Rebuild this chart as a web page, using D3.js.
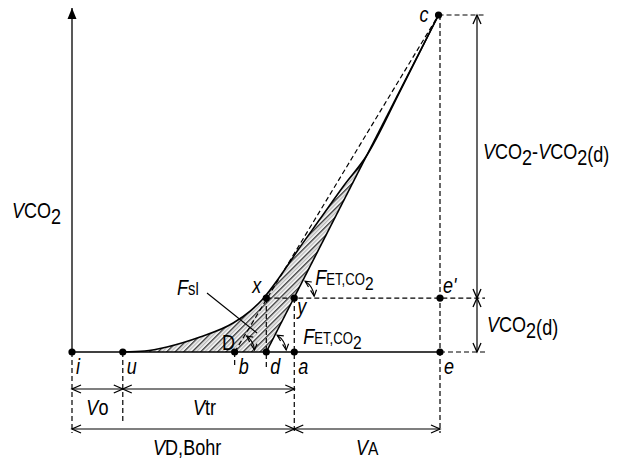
<!DOCTYPE html>
<html>
<head>
<meta charset="utf-8">
<script src="https://cdn.jsdelivr.net/npm/d3@7"></script>
<style>
  body { margin: 0; background: #fff; }
  svg text {
    font-family: "Liberation Sans Narrow", "Arial Narrow", "Liberation Sans", Arial, sans-serif;
    font-size: 22px;
    fill: #000;
  }
</style>
</head>
<body>
<div id="chart"></div>
<script>
// expired volume (mL) of the marked points on the baseline
const pointNames = ['i', 'u', 'b', 'd', 'a', 'e'];
const pointVolumes = [0, 69, 221, 264, 302, 500];
// CO2 volume levels (mL)
const co2Dead = 3.2;   // VCO2(d): level of x, y and e'
const co2Total = 20;   // level of c
const volC = 498;
// volumetric capnogram, u -> c
const curveVolumes = [69, 99, 129, 174, 219, 242, 258, 283, 307, 337, 370, 400, 446, 498];
const curveCO2 = [0, 0.06, 0.3, 0.89, 1.72, 2.43, 3.09, 4.51, 6.05, 7.89, 9.91, 11.63, 15.5, 20];

const width = 620, height = 459;
const x = d3.scaleLinear().domain([0, 500]).range([72, 440]);
const y = d3.scaleLinear().domain([0, co2Total]).range([352, 15]);
const squeeze = 0.82; // narrow face look

const vol = {};
pointNames.forEach((n, i) => (vol[n] = pointVolumes[i]));

const svg = d3.select('#chart')
  .append('svg')
  .attr('width', width)
  .attr('height', height);

const defs = svg.append('defs');
defs.append('marker')
  .attr('id', 'open')
  .attr('viewBox', '-10 -5 12 10')
  .attr('markerWidth', 12).attr('markerHeight', 10)
  .attr('markerUnits', 'userSpaceOnUse')
  .attr('orient', 'auto-start-reverse')
  .append('path')
  .attr('d', 'M-9,-4L0,0L-9,4')
  .attr('fill', 'none').attr('stroke', '#000').attr('stroke-width', 1.3);
defs.append('marker')
  .attr('id', 'small')
  .attr('viewBox', '-8 -4 10 8')
  .attr('markerWidth', 10).attr('markerHeight', 8)
  .attr('markerUnits', 'userSpaceOnUse')
  .attr('orient', 'auto-start-reverse')
  .append('path')
  .attr('d', 'M-6,-3L0,0L-6,3')
  .attr('fill', 'none').attr('stroke', '#000').attr('stroke-width', 1.2);
defs.append('marker')
  .attr('id', 'solid')
  .attr('viewBox', '-12 -6 14 12')
  .attr('markerWidth', 14).attr('markerHeight', 12)
  .attr('markerUnits', 'userSpaceOnUse')
  .attr('orient', 'auto')
  .append('path')
  .attr('d', 'M-11,-4.5L0,0L-11,4.5Z')
  .attr('fill', '#000');

const hatch = defs.append('pattern')
  .attr('id', 'hatch')
  .attr('patternUnits', 'userSpaceOnUse')
  .attr('width', 6).attr('height', 6)
  .attr('patternTransform', 'rotate(45)');
hatch.append('rect').attr('width', 6).attr('height', 6).attr('fill', '#fff');
hatch.append('rect').attr('x', 0).attr('width', 1.4).attr('height', 6).attr('fill', '#333');
hatch.append('rect').attr('x', 2.8).attr('width', 1.6).attr('height', 6).attr('fill', '#bbb');

function seg(x1, y1, x2, y2, dashed) {
  return svg.append('line')
    .attr('x1', x1).attr('y1', y1).attr('x2', x2).attr('y2', y2)
    .attr('stroke', '#000')
    .attr('stroke-width', dashed ? 1.2 : 1.5)
    .attr('stroke-dasharray', dashed ? '5,3' : null);
}

function dimArrow(x1, y1, x2, y2) {
  seg(x1, y1, x2, y2)
    .attr('stroke-width', 1.2)
    .attr('marker-start', 'url(#open)')
    .attr('marker-end', 'url(#open)');
}

function label(x0, y0, parts, anchor) {
  const t = svg.append('text')
    .attr('transform', `translate(${x0},${y0}) scale(${squeeze},1)`)
    .attr('text-anchor', anchor || 'start');
  let shift = 0;
  parts.forEach(p => {
    const ts = t.append('tspan').text(p.t);
    if (p.i) ts.attr('font-style', 'italic');
    if (p.s) ts.attr('font-size', p.s);
    const dy = (p.dy || 0) - shift;
    if (dy) ts.attr('dy', dy);
    shift = p.dy || 0;
  });
  return t;
}

const curvePts = curveVolumes.map((v, i) => [x(v), y(curveCO2[i])]);
const curveLine = d3.line().curve(d3.curveMonotoneX);

// hatched area between capnogram and the d-c line
svg.append('path')
  .attr('d', curveLine(curvePts) + `L${x(vol.d)},${y(0)}Z`)
  .attr('fill', 'url(#hatch)')
  .attr('stroke', 'none');

const x0 = x(0), yBase = y(0), yDead = y(co2Dead), yTop = y(co2Total);
const xC = x(volC), xE = x(vol.e);
const xRight = xE + 45, xDim = xE + 37;
const rowA = yBase + 37, rowB = yBase + 77;

// y axis
seg(x0, yBase, x0, 8).attr('stroke', '#222').attr('marker-end', 'url(#solid)');
// baseline
seg(x0, yBase, xE, yBase);
seg(xE, yBase, xRight, yBase, true);

// guide lines
seg(xC, yTop, xRight, yTop, true);
seg(x(vol.d), yDead, xRight, yDead, true);
seg(xE, yTop, xE, rowB + 4, true);
seg(x0, yBase, x0, rowB + 4, true);
seg(x(vol.u), yBase, x(vol.u), rowB - 6, true);
seg(x(vol.a), yDead, x(vol.a), rowB + 4, true);
seg(x(vol.d), yDead, x(vol.d), yBase + 16, true);
seg(x(vol.b), yBase, x(vol.b), yBase + 16, true);
seg(x(vol.b), yBase, xC, yTop, true);

// capnogram and d-c line
svg.append('path')
  .attr('d', curveLine(curvePts))
  .attr('fill', 'none').attr('stroke', '#000').attr('stroke-width', 1.6);
seg(x(vol.d), yBase, xC, yTop).attr('stroke-width', 1.6);

// angle arcs
function angleArc(cx, cy, ang, r) {
  const p = d3.path();
  p.arc(cx, cy, r, -0.1, -(ang - 0.1), true);
  svg.append('path')
    .attr('d', p.toString())
    .attr('fill', 'none').attr('stroke', '#000').attr('stroke-width', 1.1)
    .attr('marker-start', 'url(#small)')
    .attr('marker-end', 'url(#small)');
}
const angDC = Math.atan2(yBase - yTop, xC - x(vol.d));
const angBC = Math.atan2(yBase - yTop, xC - x(vol.b));
angleArc(x(vol.d), yBase, angDC, 20);
angleArc(x(vol.a), yDead, angDC, 20);
angleArc(x(vol.b), yBase, angBC, 20);

// points
const dots = pointNames.map(n => [x(vol[n]), yBase])
  .concat([[xE, yDead], [xC, yTop], [x(vol.d), yDead], [x(vol.a), yDead]]);
svg.selectAll('circle.pt')
  .data(dots)
  .enter()
  .append('circle')
  .attr('class', 'pt')
  .attr('cx', d => d[0]).attr('cy', d => d[1])
  .attr('r', 3.6).attr('fill', '#000');

// dimension arrows
dimArrow(xDim, yTop, xDim, yDead);
dimArrow(xDim, yDead, xDim, yBase);
dimArrow(x0, rowA, x(vol.u), rowA);
dimArrow(x(vol.u), rowA, x(vol.a), rowA);
dimArrow(x0, rowB, x(vol.a), rowB);
dimArrow(x(vol.a), rowB, xE, rowB);

// point letters
pointNames.forEach(n => label(x(vol[n]) + 4, yBase + 22, [{ t: n, i: true }]));
label(xE + 3, yDead - 5, [{ t: "e'", i: true }]);
label(xC - 19, yTop + 7, [{ t: 'c', i: true }]);
label(x(vol.d) - 14, yDead - 5, [{ t: 'x', i: true }]);
label(x(vol.a) + 3, yDead + 16, [{ t: 'y', i: true }]);
label(222, yBase - 2, [{ t: 'D' }]);

// F labels
const fet = [{ t: 'F', i: true }, { t: 'ET,CO', s: 16 }, { t: '2', s: 19, dy: 5 }];
label(x(vol.a) + 21, yDead - 13, fet);
label(x(vol.a) + 9, yBase - 8, fet);
label(177, 295, [{ t: 'F', i: true }, { t: 'sl', s: 18 }]);
seg(207, 293, 257, 333).attr('stroke-width', 1.1);

// axis and dimension labels
const vco2 = [{ t: 'V', i: true }, { t: 'CO' }, { t: '2', dy: 6 }];
label(12, 218, vco2);
label(483, (yTop + yDead) / 2 + 2, vco2.concat([{ t: '-' }], vco2, [{ t: '(d)', dy: 3 }]));
label(487, yBase - 20, vco2.concat([{ t: '(d)', dy: 3 }]));
label((x0 + x(vol.u)) / 2, rowA + 26, [{ t: 'V', i: true }, { t: 'o' }], 'middle');
label((x(vol.u) + x(vol.a)) / 2 - 4, rowA + 26, [{ t: 'V', i: true }, { t: 'tr' }], 'middle');
label((x0 + x(vol.a)) / 2 + 4, rowB + 26, [{ t: 'V', i: true }, { t: 'D,Bohr' }], 'middle');
label((x(vol.a) + xE) / 2, rowB + 26, [{ t: 'V', i: true }, { t: 'A', s: 19 }], 'middle');
</script>
</body>
</html>
